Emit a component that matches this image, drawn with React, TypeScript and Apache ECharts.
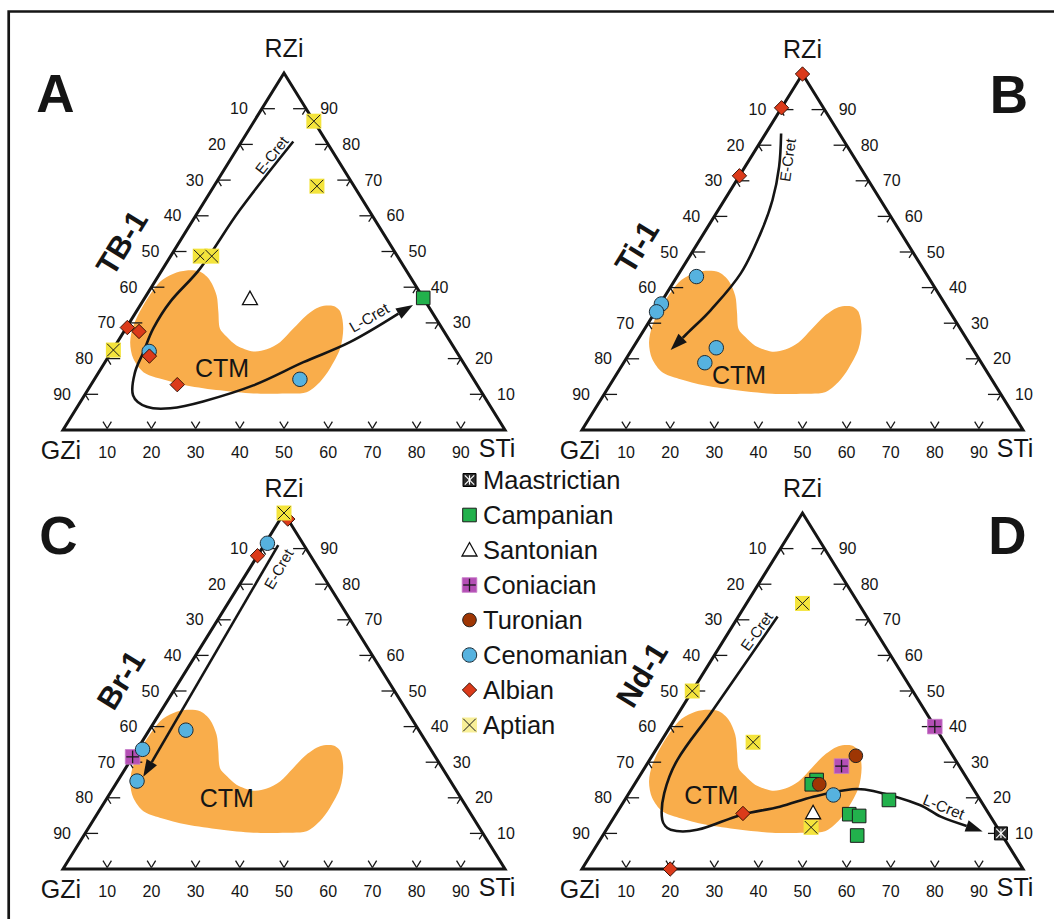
import React, { useEffect, useRef } from "react";
import * as echarts from "echarts";

const FONT = "'Liberation Sans', Arial, Helvetica, sans-serif";

// ---------------- data ----------------
const stageNames = ["Maastrictian", "Campanian", "Santonian", "Coniacian", "Turonian", "Cenomanian", "Albian", "Aptian"];
const vertexNames = ["GZi", "STi", "RZi"];
const tickValues = [10, 20, 30, 40, 50, 60, 70, 80, 90];

// [stage, GZi, STi, RZi]
type Sample = [string, number, number, number];

const tb1Samples: Sample[] = [
  ["Campanian", 0, 63, 37],
  ["Santonian", 39.3, 23.9, 36.8],
  ["Cenomanian", 69.5, 8.5, 22],
  ["Cenomanian", 39.3, 46.5, 14.2],
  ["Albian", 71.1, 0.2, 28.7],
  ["Albian", 69, 3.4, 27.6],
  ["Albian", 70.1, 9.2, 20.7],
  ["Albian", 67.8, 19.5, 12.7],
  ["Aptian", 0, 13.5, 86.5],
  ["Aptian", 8.4, 23.3, 68.3],
  ["Aptian", 44.6, 6.7, 48.7],
  ["Aptian", 42, 9.3, 48.7],
  ["Aptian", 77.4, 0.2, 22.4],
];

const ti1Samples: Sample[] = [
  ["Cenomanian", 52.5, 4.4, 43.1],
  ["Cenomanian", 64.3, 0.3, 35.4],
  ["Cenomanian", 66.5, 0.3, 33.2],
  ["Cenomanian", 58, 18.9, 23.1],
  ["Cenomanian", 62.7, 18.4, 18.9],
  ["Albian", 0, 0, 100],
  ["Albian", 9.5, 0, 90.5],
  ["Albian", 28.6, 0, 71.4],
];

const br1Samples: Sample[] = [
  ["Coniacian", 68.5, 0, 31.5],
  ["Cenomanian", 8, 0.5, 91.5],
  ["Cenomanian", 52.7, 8.3, 39],
  ["Cenomanian", 65.2, 1.2, 33.6],
  ["Cenomanian", 70.9, 4.4, 24.7],
  ["Albian", 0, 1.7, 98.3],
  ["Albian", 12, 0, 88],
  ["Aptian", 0, 0, 100],
];

const nd1Samples: Sample[] = [
  ["Maastrictian", 0, 90, 10],
  ["Campanian", 34.3, 40.7, 25],
  ["Campanian", 36, 40.2, 23.8],
  ["Campanian", 31.7, 52.9, 15.4],
  ["Campanian", 29.7, 55.4, 14.9],
  ["Campanian", 32.9, 57.7, 9.4],
  ["Campanian", 20.7, 59.9, 19.4],
  ["Santonian", 39.7, 44.5, 15.8],
  ["Coniacian", 0, 60, 40],
  ["Coniacian", 26.7, 44.4, 28.9],
  ["Turonian", 34.3, 41.9, 23.8],
  ["Turonian", 22, 46.2, 31.8],
  ["Cenomanian", 32.6, 46.6, 20.8],
  ["Albian", 55.7, 28.7, 15.6],
  ["Albian", 80, 20, 0],
  ["Aptian", 12.7, 12.7, 74.6],
  ["Aptian", 50, 0, 50],
  ["Aptian", 43.4, 21, 35.6],
  ["Aptian", 42.2, 46.1, 11.7],
];

// [STi, RZi] outline of the CTM field
type Pt = [number, number];
const ctmOutline: Pt[] = [
  [3.1, 43.8], [5.6, 44.7], [8.9, 44.3], [12.3, 41.9], [15.9, 37.7], [18.6, 33.1], [21.3, 28.4],
  [24.0, 26.1], [27.4, 23.7], [32.1, 22.0], [34.8, 22.6], [36.8, 24.6], [37.9, 28.4], [39.0, 32.1],
  [40.9, 34.5], [43.8, 34.7], [46.2, 33.1], [49.2, 28.4], [51.3, 22.8], [51.8, 17.2], [51.4, 13.4],
  [49.8, 10.6], [45.5, 10.2], [38.0, 10.2], [30.0, 11.1], [21.7, 12.5], [14.7, 14.4], [10.1, 16.2],
  [5.9, 20.0], [2.9, 24.6], [1.3, 29.3], [0.7, 34.9], [1.2, 41.5],
];

// [STi, RZi] trend paths (E-Cret -> L-Cret)
const tb1Trend: Pt[] = [
  [11.7, 80.8], [9.2, 61.6], [8.4, 45.2], [6.3, 35.9], [6.2, 28.4], [7.3, 21.8], [8.2, 16.2],
  [11.0, 9.7], [15.7, 6.5], [21.2, 6.1], [27.7, 8.0], [36.8, 12.5], [44.9, 19.0], [52.6, 24.6], [61.7, 35.0],
];
const ti1Trend: Pt[] = [
  [3.5, 83.3], [7.7, 74.0], [10.9, 64.6], [12.85, 55.3], [14.0, 44.0], [12.35, 33.7], [10.3, 27.2], [8.85, 22.5],
];
const br1Trend: Pt[] = [[3.2, 91.0], [5.2, 25.9]];
const nd1Trend: Pt[] = [
  [8.9, 70.9], [7.3, 43.7], [6.3, 30.6], [8.0, 21.3], [11.3, 13.8], [14.6, 11.0], [20.6, 11.0],
  [28.4, 15.2], [36.1, 17.5], [42.3, 20.3], [50.0, 22.4], [55.1, 21.9], [67.6, 18.0], [74.0, 14.7], [85.6, 10.5],
];

// ---------------- layout / style ----------------
const CTM_COLOR = "#f9ad4b";
const INK = "#151515";

const panels = [
  {
    letter: "A", well: "TB-1", samples: tb1Samples, trend: tb1Trend,
    box: [63, 73, 442, 357], letterAt: [55.5, 93], wellAt: [122, 243],
    notes: [
      { text: "CTM", at: [27.3, 17.4], rot: 0, size: 25 },
      { text: "E-Cret", at: [8.7, 77.0], rot: 52, size: 15 },
      { text: "L-Cret", at: [53.5, 31.5], rot: 30, size: 15.5 },
    ],
  },
  {
    letter: "B", well: "Ti-1", samples: ti1Samples, trend: ti1Trend,
    box: [582, 74, 441, 356], letterAt: [1009, 94], wellAt: [637, 247],
    notes: [
      { text: "CTM", at: [27.9, 15.4], rot: 0, size: 25 },
      { text: "E-Cret", at: [8.7, 75.8], rot: 82, size: 15 },
    ],
  },
  {
    letter: "C", well: "Br-1", samples: br1Samples, trend: br1Trend,
    box: [63, 513, 442, 356], letterAt: [58.3, 535], wellAt: [121, 680],
    notes: [
      { text: "CTM", at: [27.1, 19.9], rot: 0, size: 25 },
      { text: "E-Cret", at: [6.6, 84.3], rot: 60, size: 15 },
    ],
  },
  {
    letter: "D", well: "Nd-1", samples: nd1Samples, trend: nd1Trend,
    box: [582, 513, 441, 356], letterAt: [1007.3, 535], wellAt: [642, 675],
    notes: [
      { text: "CTM", at: [18.9, 20.8], rot: 0, size: 25 },
      { text: "E-Cret", at: [6.2, 66.8], rot: 54, size: 15 },
      { text: "L-Cret", at: [73.3, 17.5], rot: -22, size: 15.5 },
    ],
  },
];

// ---------------- helpers ----------------
const toXY = (s: number, r: number): number[] => [s + r / 2, r];
const fromSample = (g: number, s: number, r: number): number[] => {
  const t = g + s + r;
  return toXY((100 * s) / t, (100 * r) / t);
};
const unit = (a: number[], b: number[]) => {
  const dx = b[0] - a[0];
  const dy = b[1] - a[1];
  const l = Math.hypot(dx, dy) || 1;
  return [dx / l, dy / l];
};

function textEl(text: string, x: number, y: number, size: number, opts: any = {}) {
  const align = opts.align || "center";
  return {
    type: "text",
    x,
    y,
    rotation: ((opts.rot || 0) * Math.PI) / 180,
    silent: true,
    style: {
      text,
      fontSize: size,
      fontFamily: FONT,
      fontWeight: opts.bold ? "bold" : "normal",
      fill: opts.fill || INK,
      align,
      textAlign: align,
      verticalAlign: "middle",
      textVerticalAlign: "middle",
    },
  };
}

function seg(x1: number, y1: number, x2: number, y2: number, stroke: string, lineWidth: number) {
  return { type: "line", silent: true, shape: { x1, y1, x2, y2 }, style: { stroke, lineWidth } };
}

function symbolEls(stage: string, cx: number, cy: number, legend: boolean): any[] {
  switch (stage) {
    case "Maastrictian": {
      const h = 6.5, g = 1.8;
      return [
        { type: "rect", shape: { x: cx - h, y: cy - h, width: 2 * h, height: 2 * h }, style: { fill: "#2b2b2b", stroke: "#000", lineWidth: 1 } },
        seg(cx - h + g, cy - h + g, cx + h - g, cy + h - g, "#fff", 1.2),
        seg(cx + h - g, cy - h + g, cx - h + g, cy + h - g, "#fff", 1.2),
        seg(cx, cy - h + g, cx, cy + h - g, "#fff", 1.2),
      ];
    }
    case "Campanian": {
      const h = 6.8;
      return [{ type: "rect", shape: { x: cx - h, y: cy - h, width: 2 * h, height: 2 * h }, style: { fill: "#22b14c", stroke: "#1b1b1b", lineWidth: 1 } }];
    }
    case "Santonian":
      return [{ type: "polygon", shape: { points: [[cx, cy - 7.5], [cx + 7.5, cy + 6], [cx - 7.5, cy + 6]] }, style: { fill: "#fff", stroke: "#111", lineWidth: 1.3 } }];
    case "Coniacian": {
      const h = 7.3;
      return [
        { type: "rect", shape: { x: cx - h, y: cy - h, width: 2 * h, height: 2 * h }, style: { fill: "#b44fb5", stroke: "#c77ac8", lineWidth: 0.8 } },
        seg(cx - h + 1, cy, cx + h - 1, cy, "#1a1a1a", 1.3),
        seg(cx, cy - h + 1, cx, cy + h - 1, "#1a1a1a", 1.3),
      ];
    }
    case "Turonian":
      return [{ type: "circle", shape: { cx, cy, r: 6.8 }, style: { fill: "#9e3604", stroke: "#222", lineWidth: 1 } }];
    case "Cenomanian":
      return [{ type: "circle", shape: { cx, cy, r: 7.2 }, style: { fill: "#56b2df", stroke: "#1d2a33", lineWidth: 1 } }];
    case "Albian": {
      const h = 7.2;
      return [{ type: "polygon", shape: { points: [[cx, cy - h], [cx + h, cy], [cx, cy + h], [cx - h, cy]] }, style: { fill: "#db3a1a", stroke: "#2a0a00", lineWidth: 0.9 } }];
    }
    case "Aptian":
    default: {
      const h = 7.5, g = 1.2;
      return [
        { type: "rect", shape: { x: cx - h, y: cy - h, width: 2 * h, height: 2 * h }, style: { fill: legend ? "#f8ef98" : "#f4e43c", stroke: "none" } },
        seg(cx - h + g, cy - h + g, cx + h - g, cy + h - g, "#1a1a1a", 1),
        seg(cx + h - g, cy - h + g, cx - h + g, cy + h - g, "#1a1a1a", 1),
      ];
    }
  }
}

function buildOption() {
  const series: any[] = [];
  panels.forEach((p, i) => {
    const axes = { xAxisIndex: i, yAxisIndex: i, silent: true, animation: false };
    const sorted = [...p.samples].sort((a, b) => stageNames.indexOf(a[0]) - stageNames.indexOf(b[0]));

    series.push({
      type: "custom", name: "CTM " + p.letter, ...axes, z: 1, data: [[0, 0]],
      renderItem: (_pr: any, api: any) => ({
        type: "polygon",
        shape: { points: ctmOutline.map(([s, r]) => api.coord(toXY(s, r))), smooth: 0.3 },
        style: { fill: CTM_COLOR, stroke: "none" },
      }),
    });

    series.push({
      type: "custom", name: "frame " + p.letter, ...axes, z: 2, data: [[0, 0]],
      renderItem: (_pr: any, api: any) => {
        const L = api.coord(toXY(0, 0));
        const R = api.coord(toXY(100, 0));
        const A = api.coord(toXY(0, 100));
        return {
          type: "group",
          children: [
            { type: "polygon", shape: { points: [L, A, R] }, style: { fill: "none", stroke: INK, lineWidth: 3, lineJoin: "miter", miterLimit: 10 } },
            textEl(vertexNames[2], A[0], A[1] - 25, 25),
            textEl(vertexNames[0], L[0] - 2, L[1] + 20, 25),
            textEl(vertexNames[1], R[0] - 8, R[1] + 18, 25),
          ],
        };
      },
    });

    series.push({
      type: "custom", name: "ticks " + p.letter, ...axes, z: 2, data: tickValues.map((k) => [k, 0]),
      renderItem: (pr: any, api: any) => {
        const k = tickValues[pr.dataIndex];
        const L = api.coord(toXY(0, 0));
        const Rv = api.coord(toXY(100, 0));
        const A = api.coord(toXY(0, 100));
        const dR = unit(A, Rv);
        const dL = unit(A, L);
        const pl = api.coord(toXY(0, 100 - k));
        const prt = api.coord(toXY(100 - k, k));
        const pb = api.coord(toXY(k, 0));
        const vb = [pb[0], pb[1] - 1.5];
        const w = 1.3;
        return {
          type: "group",
          children: [
            seg(pl[0], pl[1], pl[0] + 13, pl[1], INK, w),
            seg(pl[0], pl[1], pl[0] + dR[0] * 7, pl[1] + dR[1] * 7, INK, w),
            seg(prt[0], prt[1], prt[0] - 13, prt[1], INK, w),
            seg(prt[0], prt[1], prt[0] + dL[0] * 7, prt[1] + dL[1] * 7, INK, w),
            seg(vb[0], vb[1], vb[0] - dR[0] * 8, vb[1] - dR[1] * 8, INK, w),
            seg(vb[0], vb[1], vb[0] - dL[0] * 8, vb[1] - dL[1] * 8, INK, w),
            textEl(String(k), pl[0] - 23, pl[1], 16),
            textEl(String(k), prt[0] + 23, prt[1], 16),
            textEl(String(k), pb[0], pb[1] + 22, 16),
          ],
        };
      },
    });

    series.push({
      type: "custom", name: "trend " + p.letter, ...axes, z: 3, data: [[0, 0]],
      renderItem: (_pr: any, api: any) => {
        const pts = p.trend.map(([s, r]) => api.coord(toXY(s, r)));
        const tip = pts[pts.length - 1];
        const prev = pts[pts.length - 2];
        const [ux, uy] = unit(prev, tip);
        const len = 17, hw = 6;
        const base = [tip[0] - ux * len, tip[1] - uy * len];
        const linePts = [...pts.slice(0, -1), base];
        return {
          type: "group",
          children: [
            { type: "polyline", shape: { points: linePts, smooth: 0.35 }, style: { stroke: INK, lineWidth: 2.6, fill: null } },
            {
              type: "polygon",
              shape: { points: [tip, [base[0] - uy * hw, base[1] + ux * hw], [base[0] + uy * hw, base[1] - ux * hw]] },
              style: { fill: INK },
            },
          ],
        };
      },
    });

    series.push({
      type: "custom", name: "notes " + p.letter, ...axes, z: 4, data: p.notes.map((n) => toXY(n.at[0], n.at[1])),
      renderItem: (pr: any, api: any) => {
        const n = p.notes[pr.dataIndex];
        const c = api.coord(toXY(n.at[0], n.at[1]));
        return textEl(n.text, c[0], c[1], n.size, { rot: n.rot });
      },
    });

    series.push({
      type: "custom", name: p.well, ...axes, z: 5, data: sorted.map((s) => fromSample(s[1], s[2], s[3])),
      renderItem: (pr: any, api: any) => {
        const s = sorted[pr.dataIndex];
        const c = api.coord(fromSample(s[1], s[2], s[3]));
        return { type: "group", children: symbolEls(s[0], c[0], c[1], false) };
      },
    });
  });

  const graphicEls: any[] = [
    { type: "rect", silent: true, shape: { x: 8.7, y: 11.5, width: 1100, height: 1000 }, style: { fill: "none", stroke: INK, lineWidth: 2.7 } },
  ];
  panels.forEach((p) => {
    graphicEls.push(textEl(p.letter, p.letterAt[0], p.letterAt[1], 53, { bold: true }));
    graphicEls.push(textEl(p.well, p.wellAt[0], p.wellAt[1], 31, { bold: true, rot: 58.4 }));
  });
  stageNames.forEach((st, i) => {
    const cy = 480 + 35 * i;
    symbolEls(st, 469.5, cy, true).forEach((el) => graphicEls.push({ ...el, silent: true }));
    graphicEls.push(textEl(st, 483, cy, 25.5, { align: "left" }));
  });

  return {
    animation: false,
    backgroundColor: "#ffffff",
    grid: panels.map((p) => ({
      left: p.box[0], top: p.box[1], width: p.box[2], height: p.box[3],
      containLabel: false, outerBoundsMode: "none", show: false,
    })),
    xAxis: panels.map((_p, i) => ({ type: "value", gridIndex: i, min: 0, max: 100, show: false })),
    yAxis: panels.map((_p, i) => ({ type: "value", gridIndex: i, min: 0, max: 100, show: false })),
    series,
    graphic: { elements: graphicEls },
  };
}

export default function App() {
  const ref = useRef<HTMLDivElement>(null);
  useEffect(() => {
    if (!ref.current) return;
    const chart = echarts.init(ref.current, undefined, { renderer: "svg" });
    chart.setOption(buildOption() as any);
    return () => chart.dispose();
  }, []);
  return (
    <div
      ref={ref}
      style={{ position: "fixed", left: 0, top: 0, width: 1054, height: 919, background: "#fff" }}
    />
  );
}
